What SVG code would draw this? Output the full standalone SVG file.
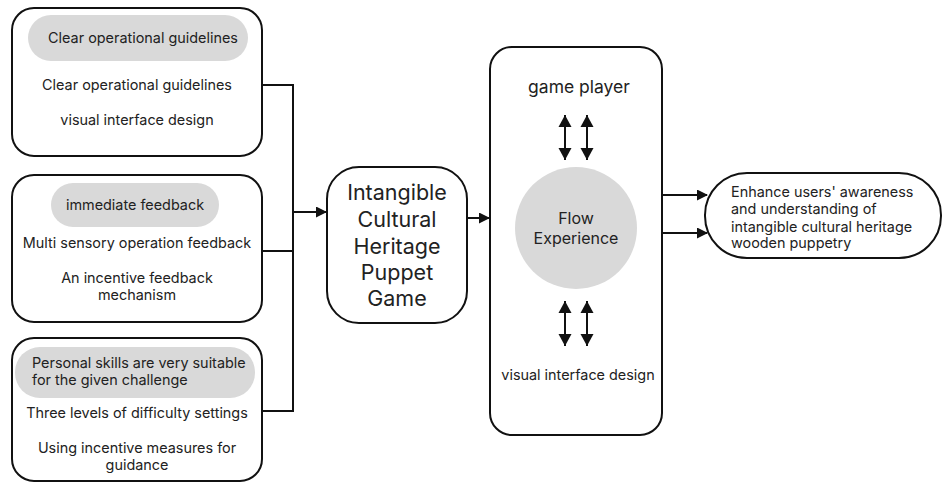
<svg xmlns="http://www.w3.org/2000/svg" width="944" height="484" viewBox="0 0 944 484">
<style>
.box{fill:#fff;stroke:#111;stroke-width:2}
.pill{fill:#d9d9d9;stroke:none}
.t{font-family:Inter,"Noto Sans",sans-serif;font-size:14.4px;fill:#222}
.c{text-anchor:middle}
.big{font-size:21.5px}
.mid{font-size:17.5px}
.fl{font-size:16px}
.ln{fill:none;stroke:#111;stroke-width:2}
</style>
<defs>
<marker id="ah" markerWidth="11" markerHeight="11" refX="10" refY="5.5" orient="auto-start-reverse" markerUnits="userSpaceOnUse">
<path d="M0,0 L11,5.5 L0,11 z" fill="#111"/>
</marker>
<marker id="ah2" markerWidth="13" markerHeight="14" refX="12" refY="7" orient="auto-start-reverse" markerUnits="userSpaceOnUse">
<path d="M0,0.5 L12,7 L0,13.5 z" fill="#111"/>
</marker>
</defs>
<rect width="944" height="484" fill="#fff"/>
<g id="node-guidelines">
<rect class="box" x="12" y="8" width="250" height="148" rx="22"/>
<rect class="pill" x="28" y="15" width="220" height="46" rx="23"/>
<text class="t c" x="143" y="43">Clear operational guidelines</text>
<text class="t c" x="137" y="90">Clear operational guidelines</text>
<text class="t c" x="137" y="125">visual interface design</text>
</g>
<g id="node-feedback">
<rect class="box" x="12" y="175" width="250" height="147" rx="22"/>
<rect class="pill" x="51" y="183" width="168" height="44" rx="22"/>
<text class="t c" x="135" y="210">immediate feedback</text>
<text class="t c" x="137" y="248">Multi sensory operation feedback</text>
<text class="t c" x="137" y="283">An incentive feedback</text>
<text class="t c" x="137" y="300">mechanism</text>
</g>
<g id="node-skills">
<rect class="box" x="12" y="338" width="250" height="143" rx="22"/>
<rect class="pill" x="15" y="347" width="240" height="51" rx="25"/>
<text class="t" x="32" y="368">Personal skills are very suitable</text>
<text class="t" x="32" y="385">for the given challenge</text>
<text class="t c" x="137" y="418">Three levels of difficulty settings</text>
<text class="t c" x="137" y="453">Using incentive measures for</text>
<text class="t c" x="137" y="470">guidance</text>
</g>
<g id="node-game">
<rect class="box" x="327" y="167" width="140" height="156" rx="32"/>
<text class="t c big" x="397" y="200">Intangible</text>
<text class="t c big" x="397" y="227">Cultural</text>
<text class="t c big" x="397" y="254">Heritage</text>
<text class="t c big" x="397" y="280">Puppet</text>
<text class="t c big" x="397" y="306">Game</text>
</g>
<g id="node-player">
<rect class="box" x="490" y="47" width="172" height="388" rx="22"/>
<text class="t c mid" x="579" y="93">game player</text>
<circle cx="576" cy="228" r="61" fill="#d9d9d9"/>
<text class="t c fl" x="576" y="224">Flow</text>
<text class="t c fl" x="576" y="244">Experience</text>
<text class="t c" x="578" y="380">visual interface design</text>
</g>
<g id="node-outcome">
<rect class="box" x="705" y="173" width="236" height="85" rx="42"/>
<text class="t" x="731" y="197">Enhance users' awareness</text>
<text class="t" x="731" y="214">and understanding of</text>
<text class="t" x="731" y="232">intangible cultural heritage</text>
<text class="t" x="731" y="248">wooden puppetry</text>
</g>
<g id="connectors">
<path class="ln" d="M262,85 H293 V411 H262"/>
<path class="ln" d="M262,251 H293"/>
<path class="ln" d="M293,212 H326" marker-end="url(#ah)"/>
<path class="ln" d="M467,218 H489" marker-end="url(#ah)"/>
<path class="ln" d="M565,115 V160" marker-start="url(#ah2)" marker-end="url(#ah2)"/>
<path class="ln" d="M587,115 V160" marker-start="url(#ah2)" marker-end="url(#ah2)"/>
<path class="ln" d="M565,301 V346" marker-start="url(#ah2)" marker-end="url(#ah2)"/>
<path class="ln" d="M587,301 V346" marker-start="url(#ah2)" marker-end="url(#ah2)"/>
<path class="ln" d="M662,195 H707" marker-end="url(#ah)"/>
<path class="ln" d="M662,233 H707" marker-end="url(#ah)"/>
</g>
</svg>
